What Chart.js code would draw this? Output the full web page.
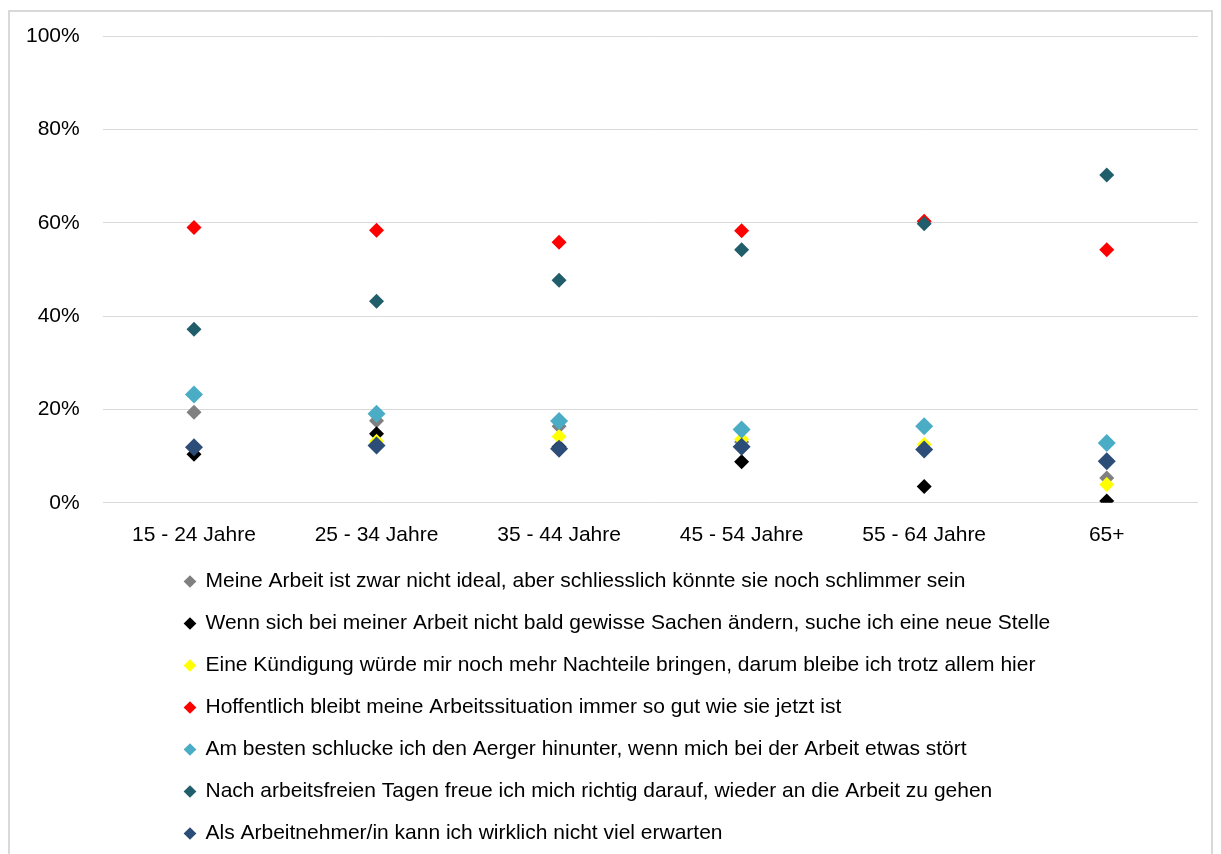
<!DOCTYPE html>
<html>
<head>
<meta charset="utf-8">
<script src="https://cdn.jsdelivr.net/npm/chart.js@4/dist/chart.umd.min.js"></script>
<style>
  html, body { margin: 0; padding: 0; background: #fff; }
  #wrap { position: relative; width: 1221px; height: 854px; }
  #frame { position: absolute; left: 8px; top: 10px; width: 1205px; height: 850px;
           border: 2px solid #d9d9d9; box-sizing: border-box; }
  #grafico { position: absolute; left: 0; top: 0; }
</style>
</head>
<body>
<div id="wrap">
  <div id="frame"></div>
  <canvas id="grafico" width="1221" height="854"></canvas>
</div>
<script>
// Altersgruppen
var kategorien = ["15 - 24 Jahre", "25 - 34 Jahre", "35 - 44 Jahre", "45 - 54 Jahre", "55 - 64 Jahre", "65+"];
var yTicks = [0, 20, 40, 60, 80, 100];

var labelIdeal = "Meine Arbeit ist zwar nicht ideal, aber schliesslich könnte sie noch schlimmer sein";
var labelStelle = "Wenn sich bei meiner Arbeit nicht bald gewisse Sachen ändern, suche ich eine neue Stelle";
var labelKuendigung = "Eine Kündigung würde mir noch mehr Nachteile bringen, darum bleibe ich trotz allem hier";
var labelHoffentlich = "Hoffentlich bleibt meine Arbeitssituation immer so gut wie sie jetzt ist";
var labelAerger = "Am besten schlucke ich den Aerger hinunter, wenn mich bei der Arbeit etwas stört";
var labelFreue = "Nach arbeitsfreien Tagen freue ich mich richtig darauf, wieder an die Arbeit zu gehen";
var labelErwarten = "Als Arbeitnehmer/in kann ich wirklich nicht viel erwarten";

// Werte in %
var wertIdeal = [19.4, 17.6, 16.4, 13.0, 11.6, 5.3];
var wertStelle = [10.4, 14.8, 12.0, 8.8, 3.5, 0.4];
var wertKuendigung = [12.0, 13.2, 14.2, 13.6, 12.5, 3.9];
var wertHoffentlich = [59.0, 58.4, 55.8, 58.3, 60.3, 54.2];
var wertAerger = [23.2, 19.1, 17.5, 15.7, 16.4, 12.8];
var wertFreue = [37.2, 43.2, 47.7, 54.2, 59.8, 70.2];
var wertErwarten = [11.9, 12.3, 11.6, 12.0, 11.4, 8.9];

var schrift = "'Liberation Sans', Arial, sans-serif";

// spätere Serien liegen oben (wie in Excel)
function serie(label, werte, farbe, radius, nr) {
  return {
    label: label,
    data: werte,
    order: 10 - nr,
    showLine: false,
    pointStyle: "rectRot",
    pointRadius: radius,
    pointHoverRadius: radius,
    pointBorderWidth: 0,
    backgroundColor: farbe,
    borderColor: farbe,
  };
}

// Legende nach rechts und etwas nach oben schieben (wie im Original)
var legendeVerschieben = {
  id: "legendeVerschieben",
  afterLayout: function (chart) {
    chart.legend.left += 161;
    chart.legend.right += 161;
    chart.legend.top -= 10;
    chart.legend.bottom -= 10;
  },
};

const ctx = document.getElementById("grafico").getContext("2d");

const grafico = new Chart(ctx, {
  type: "line",
  data: {
    labels: kategorien,
    datasets: [
      serie(labelIdeal, wertIdeal, "#808080", 7.5, 0),
      serie(labelStelle, wertStelle, "#000000", 7.5, 1),
      serie(labelKuendigung, wertKuendigung, "#ffff00", 7.5, 2),
      serie(labelHoffentlich, wertHoffentlich, "#ff0000", 7.5, 3),
      serie(labelAerger, wertAerger, "#4bacc6", 9, 4),
      serie(labelFreue, wertFreue, "#215e6b", 7.5, 5),
      serie(labelErwarten, wertErwarten, "#2c4d78", 9, 6),
    ],
  },
  plugins: [legendeVerschieben],
  options: {
    responsive: false,
    animation: false,
    layout: { padding: { top: 36, left: 3, right: 23, bottom: -10 } },
    scales: {
      x: {
        offset: true,
        grid: { display: false },
        border: { display: false },
        ticks: { color: "#000", padding: 12, font: { family: schrift, size: 21 } },
      },
      y: {
        min: 0,
        max: 100,
        afterBuildTicks: function (axis) {
          axis.ticks = yTicks.map(function (v) { return { value: v }; });
        },
        grid: { color: "#d9d9d9", lineWidth: 1, drawTicks: false },
        border: { display: false },
        ticks: {
          color: "#000",
          padding: 23,
          font: { family: schrift, size: 21 },
          callback: function (v) { return v + "%"; },
        },
      },
    },
    plugins: {
      tooltip: { enabled: false },
      legend: {
        position: "bottom",
        align: "start",
        labels: {
          usePointStyle: true,
          boxWidth: 10,
          boxHeight: 9,
          padding: 21,
          color: "#000",
          font: { family: schrift, size: 21 },
          sort: function (a, b) { return a.datasetIndex - b.datasetIndex; },
        },
      },
    },
  },
});
</script>
</body>
</html>
